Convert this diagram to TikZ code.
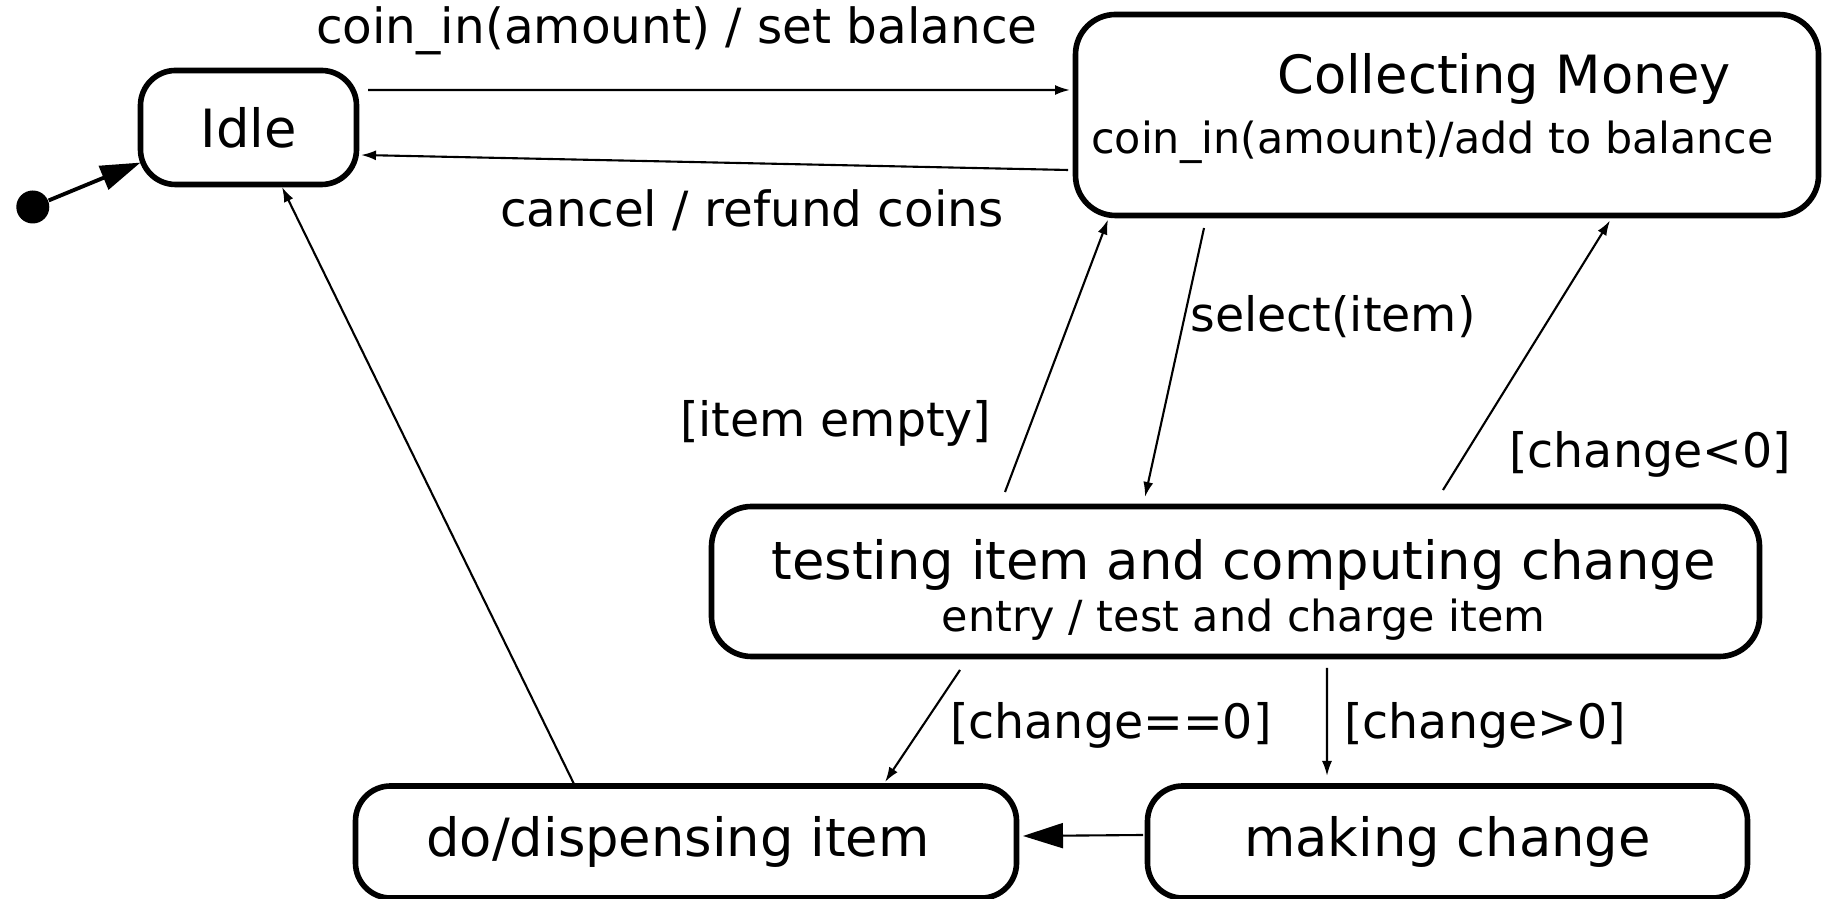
\documentclass[tikz,border=0pt]{standalone}
\usepackage{fontspec}
\setmainfont{DejaVu Sans}
\usepackage{tikz}
\usetikzlibrary{arrows.meta, positioning}
\newcommand{\statefont}{\fontsize{15}{18}\selectfont}
\newcommand{\actfont}{\fontsize{12.2}{14}\selectfont}
\newcommand{\lblfont}{\fontsize{13.5}{16}\selectfont}
\tikzset{
  statebox/.style={draw, line width=1.6pt, rounded corners=0.35cm, inner sep=0pt, outer sep=0pt, font=\statefont},
  initdot/.style={circle, fill, inner sep=0pt, minimum size=0.33cm},
  trans/.style={->, line width=0.6pt},
  guard/.style={font=\lblfont, inner sep=0pt},
  bigtip/.style={-{Triangle[length=0.4cm, width=0.25cm]}},
}

\begin{document}
\begin{tikzpicture}[>={Latex[length=0.15cm, width=0.1cm]}]
\useasboundingbox (0,0) rectangle (18.28,-8.99);
\node[statebox, minimum width=2.16cm, minimum height=1.14cm] (idle) at (2.485,-1.275) {Idle};
\node[initdot, left=0.905cm of idle, yshift=-0.795cm] (init) {};
\node[statebox, rounded corners=0.4cm, minimum width=7.43cm, minimum height=2.01cm, align=left, right=7.19cm of idle, yshift=0.125cm] (collecting) {\hspace*{1.86cm}Collecting Money\\[-0.7pt]{\actfont coin\_in(amount)/add to balance}\rule{0.29cm}{0pt}\rule[-0.23cm]{0pt}{0.1pt}};
\node[statebox, rounded corners=0.4cm, minimum width=10.48cm, minimum height=1.5cm, align=center, below=2.91cm of collecting, xshift=-2.115cm] (testing) {\hspace*{0.16cm}\rule{0pt}{0.57cm}testing item and computing change\\[-3.3pt]{\actfont\hspace*{0.16cm}entry / test and charge item}};
\node[statebox, minimum width=6.0cm, minimum height=1.12cm, below=1.295cm of testing, xshift=2.12cm] (making) {making change};
\node[statebox, minimum width=6.61cm, minimum height=1.12cm, left=1.31cm of making] (dispensing) {do/dispensing item\rule{0.16cm}{0pt}};

% initial state
\draw [bigtip, line width=1.1pt] (init) -- (idle.198);

\draw [trans] ([xshift=0.115cm, yshift=0.375cm]idle.east) -- node[guard, font=\fontsize{13.8}{16}\selectfont, pos=0.44, yshift=0.59cm] {coin\_in(amount) / set balance} ([xshift=-0.055cm, yshift=0.25cm]collecting.west);
\draw [trans] ([xshift=-0.075cm, yshift=-0.55cm]collecting.west) -- node[guard, font=\fontsize{13.8}{16}\selectfont, pos=0.447, yshift=-0.47cm] {cancel / refund coins} ([xshift=0.045cm, yshift=-0.275cm]idle.east);
\draw [trans] ([xshift=-1.12cm, yshift=0.02cm]dispensing.north) -- ([xshift=0.335cm, yshift=-0.025cm]idle.south);
\draw [trans] ([xshift=-2.305cm, yshift=0.145cm]testing.north) -- node[guard, pos=0.25, xshift=-1.95cm] {[item empty]} ([xshift=-3.39cm, yshift=-0.04cm]collecting.south);
\draw [trans] ([xshift=-2.43cm, yshift=-0.125cm]collecting.south) -- node[guard, pos=0.331, xshift=1.485cm] {select(item)} ([xshift=-0.905cm, yshift=0.095cm]testing.north);
\draw [trans] ([xshift=2.075cm, yshift=0.165cm]testing.north) -- node[guard, pos=0.132, xshift=1.85cm] {[change<0]} ([xshift=1.63cm, yshift=-0.05cm]collecting.south);
\draw [trans] ([xshift=-2.755cm, yshift=-0.135cm]testing.south) -- node[guard, pos=0.495, xshift=1.88cm] {[change==0]} ([xshift=1.99cm, yshift=0.04cm]dispensing.north);
\draw [trans] ([xshift=0.915cm, yshift=-0.115cm]testing.south) -- node[guard, pos=0.533, xshift=1.58cm] {[change>0]} ([xshift=-1.205cm, yshift=0.1cm]making.north);
\draw [bigtip, line width=0.6pt] ([xshift=-0.045cm, yshift=0.07cm]making.west) -- ([xshift=0.065cm, yshift=0.06cm]dispensing.east);
\end{tikzpicture}
\end{document}
